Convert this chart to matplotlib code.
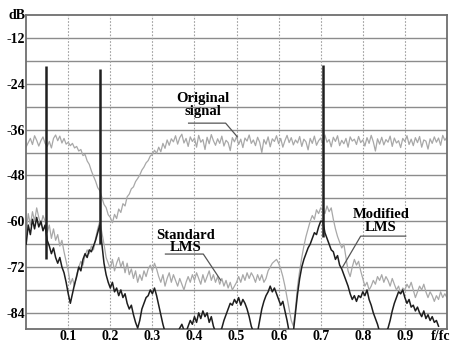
import numpy as np
import matplotlib
matplotlib.use("Agg")
import matplotlib.pyplot as plt

plt.rcParams["font.family"] = ["Liberation Serif", "DejaVu Serif"]
plt.rcParams["font.size"] = 10
plt.rcParams["font.weight"] = "bold"

# frequency grid (f/fc), step 0.005
freq = np.linspace(0.0, 1.0, 201)

original = [
    -40.5, -39.4, -38.3, -39.9, -37.6, -38.8, -40.3, -38.9, -37.9, -39.6, -40.4, -39.1, -40.8, -38.3, -37.4, -38.9, -37.7, -39.5, -38.3, -39.8,
    -39.3, -40.2, -39.6, -40.8, -40.4, -41.6, -41.2, -42.8, -42.5, -44.2, -45.1, -46.8, -48.2, -49.5, -51.2, -52.0, -53.8, -55.6, -56.4, -58.3,
    -59.0, -60.4, -58.2, -59.3, -56.8, -57.7, -55.4, -56.0, -53.6, -52.9, -51.5, -51.0, -49.6, -48.8, -47.9, -46.6, -45.8, -44.7, -44.1, -42.9,
    -42.5, -41.4, -42.2, -40.6, -41.8, -39.6, -40.9, -38.7, -40.1, -38.4, -39.2, -37.6, -39.8, -38.1, -37.2, -39.5, -38.3, -40.4, -37.9, -39.1,
    -38.2, -40.6, -37.5, -39.3, -38.6, -41.2, -38.0, -39.7, -37.3, -38.9, -40.1, -38.4, -39.6, -37.7, -40.3, -38.8, -39.4, -41.5, -38.1, -39.2,
    -37.8, -39.9, -38.5, -40.7, -38.2, -39.0, -37.4, -39.6, -38.7, -40.2, -38.0, -39.3, -42.0, -38.6, -39.8, -37.9, -40.5, -38.4, -39.1, -37.6,
    -39.7, -38.3, -40.6, -38.9, -37.5, -39.4, -38.1, -40.0, -38.7, -39.5, -37.8, -40.4, -38.5, -39.2, -41.3, -38.3, -39.6, -37.7, -40.1, -38.9,
    -38.2, -39.8, -37.4, -39.3, -38.6, -40.5, -38.0, -39.1, -37.6, -40.2, -38.8, -39.7, -38.3, -40.6, -37.9, -39.0, -38.5, -39.9, -37.8, -39.4,
    -38.7, -40.3, -38.1, -39.6, -37.5, -39.2, -41.6, -38.4, -39.8, -38.0, -40.0, -38.6, -39.3, -37.7, -40.4, -38.2, -39.5, -38.9, -40.7, -38.3,
    -39.1, -37.6, -39.9, -38.5, -40.2, -38.1, -39.4, -37.8, -40.6, -38.7, -39.0, -41.1, -38.4, -39.6, -37.9, -39.3, -38.2, -40.1, -37.5, -38.8,
    -38.0,
]

standard = [
    -63.0, -58.0, -61.0, -57.5, -60.0, -56.5, -59.0, -61.0, -58.5, -60.0, -63.0, -61.0, -64.5, -62.0, -65.0, -63.5, -66.5, -65.0, -68.0, -70.5,
    -73.0, -76.5, -75.0, -77.0, -74.0, -72.0, -70.5, -71.5, -69.0, -67.5, -68.5, -66.5, -67.5, -64.5, -62.0, -60.0, -63.0, -66.0, -69.5, -71.0,
    -72.5, -70.0, -73.0, -71.0, -69.5, -72.0, -70.5, -73.5, -71.0, -74.0, -72.5, -75.0, -73.0, -76.0, -74.0, -75.5, -73.0, -74.5, -72.5, -71.5,
    -73.0, -71.0, -72.5, -74.5, -76.0, -74.0, -77.0, -75.0, -73.5, -76.0, -74.0, -75.5, -77.0, -75.0, -76.5, -78.0, -76.0, -74.5, -76.0, -74.0,
    -75.5, -73.5, -75.0, -76.5, -74.0, -76.0, -74.5, -73.0, -75.5, -74.0, -76.0, -74.5, -76.5, -75.0, -77.0, -75.5, -77.5, -76.0, -78.0, -77.0,
    -76.0, -74.5, -76.0, -74.0, -75.5, -73.5, -75.0, -73.5, -74.5, -76.0, -74.0, -75.5, -74.0, -76.0, -75.0, -73.0, -72.0, -71.0, -70.5, -70.0,
    -71.0, -72.5, -74.5, -77.0, -80.0, -83.0, -86.0, -87.5, -83.0, -77.0, -73.0, -69.5, -66.5, -64.0, -62.0, -60.0, -58.5, -59.5, -57.0, -58.0,
    -56.5, -57.0, -58.0, -56.0, -57.5, -56.5, -59.5, -62.0, -64.0, -65.5, -67.0, -66.0, -69.5, -73.0, -74.5, -72.0, -70.0, -71.5, -70.5, -73.0,
    -75.0, -77.0, -76.0, -78.0, -77.0, -75.5, -76.5, -74.5, -75.5, -74.0, -76.0, -74.5, -75.5, -77.0, -75.0, -76.5, -78.0, -77.0, -79.0, -77.5,
    -78.0, -76.5, -77.5, -76.0, -78.0, -80.0, -78.5, -77.0, -78.0, -76.5, -78.5, -80.0, -78.5, -79.5, -81.0, -79.5, -80.5, -78.5, -80.0, -79.0,
    -80.0,
]

modified = [
    -66.0, -61.0, -63.5, -59.5, -62.0, -59.0, -61.5, -60.0, -62.5, -61.0, -65.0, -66.5, -68.5, -67.0, -69.5, -71.0, -69.5, -72.0, -73.5, -76.0,
    -79.0, -81.5, -79.0, -76.5, -74.5, -72.0, -73.0, -70.0, -68.5, -69.5, -67.5, -68.0, -66.5, -65.0, -63.0, -61.0, -66.0, -71.0, -74.0, -76.0,
    -77.5, -76.0, -78.5, -77.5, -79.5, -78.0, -80.0, -79.0, -81.5, -83.0, -82.0, -84.5, -86.5, -88.0, -86.0, -83.0, -81.5, -80.0, -79.5, -78.0,
    -79.0, -77.5, -79.5, -82.0, -84.5, -87.0, -89.0, -89.0, -89.0, -89.0, -89.0, -89.0, -89.0, -88.0, -87.0, -88.5, -89.0, -87.5, -86.0, -87.0,
    -85.0, -86.5, -84.0, -85.5, -83.5, -85.0, -84.0, -86.5, -85.0, -87.5, -89.0, -89.0, -89.0, -88.0, -86.0, -84.5, -83.0, -81.5, -82.0, -80.5,
    -81.5, -80.0, -82.0, -80.5, -81.5, -83.0, -85.0, -87.5, -89.0, -89.0, -89.0, -86.0, -83.0, -81.0, -79.5, -78.5, -77.0, -78.5, -77.5, -79.0,
    -80.5, -82.0, -81.0, -83.5, -86.0, -89.0, -89.0, -89.0, -84.0, -79.0, -75.0, -72.0, -70.0, -68.5, -67.0, -66.0, -64.5, -63.0, -63.5, -61.5,
    -60.0, -60.0, -63.0, -64.5, -66.0, -67.5, -68.0, -70.0, -69.0, -71.5, -72.5, -74.0, -75.5, -77.0, -79.0, -80.5, -79.5, -81.0, -79.5, -80.0,
    -78.5, -79.5, -78.0, -80.5, -82.0, -84.0, -85.5, -87.0, -89.0, -89.0, -89.0, -89.0, -88.0, -86.0, -83.5, -81.5, -80.0, -78.5, -79.0, -78.0,
    -80.0, -81.5, -80.5, -82.5, -82.0, -83.5, -82.5, -84.0, -85.0, -83.5, -85.5, -84.5, -86.0, -85.0, -86.5, -86.0, -87.5, np.nan, np.nan, np.nan,
    np.nan,
]

# narrow tones
spike_f = [0.048, 0.176, 0.705]
spike_base = [-70.0, -66.0, -64.0]
spike_top = [-19.3, -20.1, -19.0]

yticks = [-84, -72, -60, -48, -36, -24, -12]
xticks = [0.1, 0.2, 0.3, 0.4, 0.5, 0.6, 0.7, 0.8, 0.9]

fig = plt.figure(figsize=(4.51, 3.44), dpi=100)
ax = fig.add_axes([0.058, 0.044, 0.933, 0.912])

for v in np.arange(-84, -6, 6):
    ax.axhline(v, color="#8c8c8c", lw=1.0, zorder=1)
for v in xticks:
    ax.axvline(v, color="#a0a0a0", lw=0.8, ls=(0, (1.5, 1.5)), zorder=1)

ax.plot(freq, original, color="#a8a8a8", lw=0.9, zorder=2)
ax.plot(freq, standard, color="#a8a8a8", lw=0.9, zorder=2)
ax.plot(freq, modified, color="#1e1e1e", lw=1.1, zorder=3)
ax.vlines(spike_f, spike_base, spike_top, color="#202020", lw=1.8, zorder=4)

# labels with leader lines
ax.text(0.421, -29.6, "Original\nsignal", ha="center", va="center", fontsize=10.5, linespacing=0.95)
ax.plot([0.386, 0.474, 0.502], [-34.3, -34.3, -37.9], color="#555555", lw=0.9, zorder=5)
ax.text(0.379, -65.3, "Standard\nLMS", ha="center", va="center", fontsize=10.5, linespacing=0.95)
ax.plot([0.331, 0.421, 0.462], [-68.6, -68.6, -75.4], color="#555555", lw=0.9, zorder=5)
ax.text(0.843, -60.0, "Modified\nLMS", ha="center", va="center", fontsize=10.5, linespacing=0.95)
ax.plot([0.902, 0.795, 0.752], [-63.9, -63.9, -72.0], color="#555555", lw=0.9, zorder=5)

ax.set_xlim(0, 1.0)
ax.set_ylim(-88.2, -6)
ax.set_yticks(yticks)
ax.set_yticklabels([str(t) for t in yticks])
ax.set_xticks(xticks)
ax.set_xticklabels([str(t) for t in xticks])
ax.tick_params(length=0, pad=1, labelsize=10)
for s in ax.spines.values():
    s.set_color("#6e6e6e")
    s.set_linewidth(1.3)

fig.text(0.056, 0.956, "dB", ha="right", va="center", fontsize=10)
fig.text(0.998, 0.022, "f/fc", ha="right", va="center", fontsize=10)

fig.savefig("out.png", dpi=100)
